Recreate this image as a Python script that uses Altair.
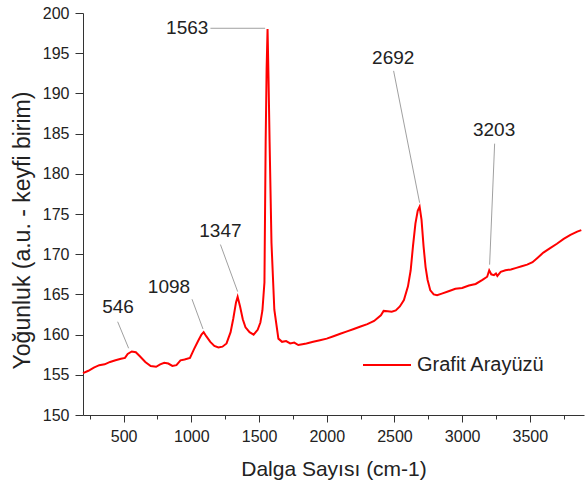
import altair as alt
import pandas as pd

# ---- spectrum ----
wavenumber = [200, 240, 280, 320, 360, 400, 440, 480, 510, 530, 560, 590, 620, 660, 700,
              740, 770, 800, 830, 860, 890, 920, 950, 990, 1020, 1050, 1075, 1091, 1110,
              1140, 1170, 1200, 1230, 1260, 1290, 1310, 1330, 1342, 1360, 1380, 1400, 1430,
              1460, 1490, 1510, 1525, 1540, 1549, 1556, 1563, 1570, 1578, 1592, 1613, 1643,
              1670, 1700, 1730, 1760, 1790, 1820, 1850, 1900, 1950, 2000, 2050, 2100, 2150,
              2200, 2250, 2300, 2350, 2400, 2420, 2450, 2480, 2510, 2540, 2570, 2600, 2620,
              2637, 2655, 2672, 2686, 2700, 2715, 2730, 2745, 2765, 2790, 2815, 2850, 2900,
              2950, 3000, 3050, 3100, 3150, 3185, 3200, 3215, 3235, 3250, 3260, 3285, 3320,
              3360, 3400, 3440, 3480, 3520, 3560, 3600, 3650, 3700, 3750, 3800, 3850, 3880]
intensity = [155.2, 155.5, 155.9, 156.2, 156.3, 156.6, 156.8, 157.0, 157.1, 157.6, 157.9,
             157.8, 157.3, 156.6, 156.1, 156.0, 156.3, 156.5, 156.4, 156.1, 156.2, 156.8,
             156.9, 157.1, 158.2, 159.2, 160.0, 160.3, 159.8, 159.1, 158.6, 158.4, 158.5,
             158.9, 160.3, 162.0, 164.0, 164.7, 163.5, 161.9, 160.9, 160.3, 160.0, 160.6,
             161.5, 163.0, 166.5, 184.0, 193.0, 198.0, 192.0, 184.0, 171.4, 163.1, 159.5,
             159.1, 159.2, 158.9, 159.0, 158.7, 158.8, 158.9, 159.1, 159.3, 159.5, 159.8,
             160.1, 160.4, 160.7, 161.0, 161.3, 161.7, 162.4, 162.95, 162.9, 162.85, 163.0,
             163.5, 164.3, 166.0, 168.0, 171.0, 173.8, 175.4, 175.9, 174.3, 171.0, 168.4,
             166.8, 165.5, 165.0, 164.9, 165.1, 165.4, 165.7, 165.8, 166.1, 166.3, 166.8,
             167.2, 168.0, 167.5, 167.4, 167.6, 167.3, 167.8, 168.0, 168.1, 168.3, 168.5,
             168.7, 169.0, 169.6, 170.2, 170.75, 171.3, 171.9, 172.4, 172.8, 173.0]
series_name = "Grafit Arayüzü"

# ---- peak annotations ----
peak_labels = ["546", "1098", "1347", "1563", "2692", "3203"]
label_x = [459, 835, 1215, 970, 2491, 3236]
label_y = [163.45, 165.9, 172.9, 198.15, 194.4, 185.4]
leader_x1 = [456, 1005, 1215, 1141, 2494, 3240]
leader_y1 = [161.6, 164.4, 171.2, 198.1, 192.8, 183.75]
leader_x2 = [537, 1086, 1342, 1545, 2686, 3203]
leader_y2 = [158.3, 160.7, 165.35, 198.1, 176.4, 168.7]

x_major_values = [500, 1000, 1500, 2000, 2500, 3000, 3500]
x_minor_values = [250, 750, 1250, 1750, 2250, 2750, 3250, 3750]
y_tick_values = [150, 152.5, 155, 157.5, 160, 162.5, 165, 167.5, 170, 172.5, 175, 177.5,
                 180, 182.5, 185, 187.5, 190, 192.5, 195, 197.5, 200]

FONT = "Liberation Sans"
TEXT = "#222222"
AXIS_COLOR = "#333333"

df = pd.DataFrame({"x": wavenumber, "y": intensity, "series": series_name})
ann = pd.DataFrame({"label": peak_labels, "tx": label_x, "ty": label_y,
                    "x1": leader_x1, "y1": leader_y1, "x2": leader_x2, "y2": leader_y2})

x_scale = alt.Scale(domain=[200, 3900], nice=False, zero=False)
y_scale = alt.Scale(domain=[150, 200], nice=False, zero=False)

x_axis = alt.Axis(
    orient="bottom", values=x_major_values, tickSize=7, format="d",
    labelOverlap=False, labelFlush=False, grid=False,
    labelFontSize=16, labelPadding=6, labelFont=FONT, labelColor=TEXT,
    title="Dalga Sayısı (cm-1)", titleFontSize=21, titleFont=FONT, titleColor=TEXT,
    titleFontWeight="normal", titleBaseline="alphabetic", titleY=60,
    domainColor=AXIS_COLOR, tickColor=AXIS_COLOR,
)
x_minor_axis = alt.Axis(
    orient="bottom", values=x_minor_values, tickSize=4, labels=False, domain=False,
    grid=False, title=None, tickColor=AXIS_COLOR,
)
y_axis = alt.Axis(
    values=y_tick_values,
    tickSize={"condition": {"test": "datum.value % 5 === 0", "value": 8}, "value": 5},
    labelExpr="datum.value % 5 === 0 ? datum.label : ''",
    labelOverlap=False, labelFlush=False, grid=False,
    labelFontSize=16, labelPadding=6, labelFont=FONT, labelColor=TEXT,
    title="Yoğunluk (a.u. - keyfi birim)", titleFontSize=23, titleFont=FONT,
    titleColor=TEXT, titleFontWeight="normal", titleX=-49, titleY=217,
    domainColor=AXIS_COLOR, tickColor=AXIS_COLOR,
)

line = alt.Chart(df).mark_line(strokeWidth=2).encode(
    x=alt.X("x:Q", scale=x_scale, axis=x_axis),
    y=alt.Y("y:Q", scale=y_scale, axis=y_axis),
    color=alt.Color(
        "series:N",
        scale=alt.Scale(domain=[series_name], range=["#ff0000"]),
        legend=alt.Legend(
            title=None, orient="none", legendX=279, legendY=327,
            symbolType="stroke", symbolSize=2304, symbolStrokeWidth=2,
            labelFontSize=20, labelFont=FONT, labelColor=TEXT, labelOffset=5,
            padding=0,
        ),
    ),
)

minor = alt.Chart(df).mark_point(opacity=0).encode(
    x=alt.X("x:Q", scale=x_scale, axis=x_minor_axis),
    y=alt.Y("y:Q", scale=y_scale),
)

leaders = alt.Chart(ann).mark_rule(color="#a0a0a0", strokeWidth=1).encode(
    x=alt.X("x1:Q", scale=x_scale, axis=None), y=alt.Y("y1:Q", scale=y_scale),
    x2="x2:Q", y2="y2:Q",
)

labels = alt.Chart(ann).mark_text(
    fontSize=19, font=FONT, color=TEXT, align="center", baseline="middle"
).encode(
    x=alt.X("tx:Q", scale=x_scale, axis=None), y=alt.Y("ty:Q", scale=y_scale),
    text="label:N",
)

chart = alt.layer(line, minor, leaders, labels).resolve_axis(x="independent").properties(
    width=501, height=402,
    autosize=alt.AutoSizeParams(type="none"),
    padding={"left": 83, "top": 13, "right": 3, "bottom": 69},
    background="white",
).configure_view(stroke=None)

chart.save("out.html", embed_options={"renderer": "svg", "actions": False})
